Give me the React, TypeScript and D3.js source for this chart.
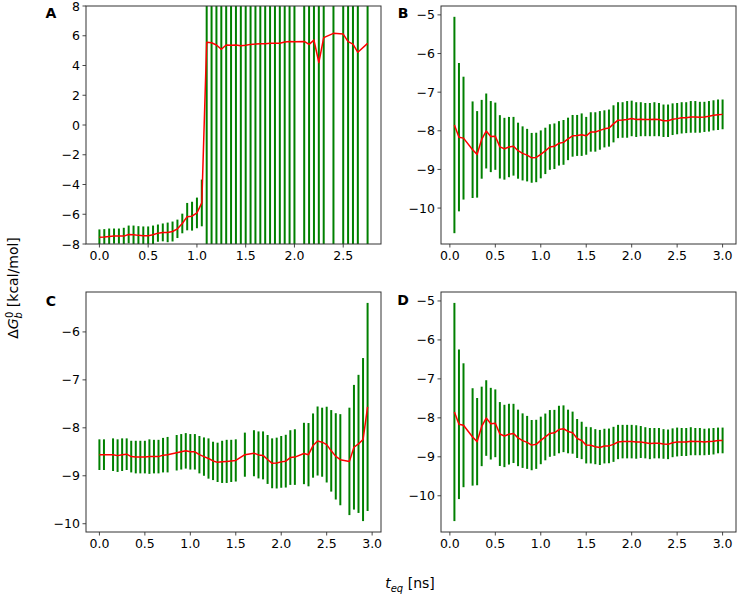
import React from "react";
import * as d3 from "d3";

// ---------- Panel A ----------
const xA = [
  0.0, 0.05, 0.1, 0.15, 0.2, 0.25, 0.3, 0.35, 0.4, 0.45, 0.5, 0.55, 0.6, 0.65, 0.7, 0.75, 0.8, 0.85, 0.9, 0.95, 1.0, 1.05,
  1.1, 1.15, 1.2, 1.25, 1.3, 1.35, 1.4, 1.45, 1.5, 1.55, 1.6, 1.65, 1.7, 1.75, 1.8, 1.85, 1.9, 1.95, 2.0,
  2.1, 2.15, 2.2, 2.25, 2.3, 2.4, 2.5, 2.55, 2.6, 2.65, 2.75,
];
const meanA = [
  -7.55, -7.53, -7.49, -7.47, -7.47, -7.47, -7.36, -7.38, -7.42, -7.44, -7.44, -7.38, -7.27, -7.22, -7.22, -7.16, -6.98, -6.62, -6.16, -6.13, -5.91, -5.24,
  5.56, 5.53, 5.38, 5.09, 5.38, 5.36, 5.38, 5.33, 5.36, 5.42, 5.44, 5.47, 5.47, 5.49, 5.49, 5.49, 5.58, 5.62, 5.6,
  5.62, 5.42, 5.71, 4.2, 5.87, 6.16, 6.11, 5.6, 5.44, 4.89, 5.49,
];
const errA = [
  0.53, 0.53, 0.53, 0.51, 0.51, 0.56, 0.6, 0.62, 0.62, 0.62, 0.62, 0.62, 0.58, 0.6, 0.66, 0.67, 0.62, 0.66, 0.92, 0.97, 1.03, 1.57,
  16, 16, 16, 16, 16, 16, 16, 16, 16, 16, 16, 16, 16, 16, 16, 16, 16, 16, 16,
  16, 16, 16, 16, 16, 16, 16, 16, 16, 16, 16,
];

// ---------- Panel B ----------
const xB = [
  0.05, 0.1, 0.15, 0.25, 0.3, 0.35, 0.4, 0.45, 0.5, 0.55,
  0.6, 0.65, 0.7, 0.75, 0.8, 0.85, 0.9, 0.95, 1.0, 1.05,
  1.1, 1.15, 1.2, 1.25, 1.3, 1.35, 1.4, 1.45, 1.5, 1.55,
  1.6, 1.65, 1.7, 1.75, 1.8, 1.85, 1.9, 1.95, 2.0, 2.05,
  2.1, 2.15, 2.2, 2.25, 2.3, 2.35, 2.4, 2.45, 2.5, 2.55,
  2.6, 2.65, 2.7, 2.75, 2.8, 2.85, 2.9, 2.95, 3.0,
];
const meanB = [
  -7.85, -8.165, -8.19, -8.49, -8.61, -8.22, -8.005, -8.15, -8.14, -8.415,
  -8.465, -8.42, -8.4, -8.515, -8.585, -8.63, -8.7, -8.69, -8.61, -8.52,
  -8.42, -8.4, -8.325, -8.3, -8.21, -8.13, -8.12, -8.1, -8.13, -8.03,
  -8.03, -7.99, -7.95, -7.93, -7.82, -7.725, -7.72, -7.705, -7.68, -7.71,
  -7.7, -7.71, -7.71, -7.7, -7.71, -7.74, -7.74, -7.7, -7.685, -7.665,
  -7.66, -7.64, -7.64, -7.65, -7.64, -7.625, -7.6, -7.585, -7.575,
];
const errB = [
  2.8, 1.92, 1.59, 1.25, 1.12, 1.02, 0.97, 0.92, 0.87, 0.82,
  0.8, 0.78, 0.76, 0.725, 0.7, 0.68, 0.645, 0.64, 0.62, 0.6,
  0.59, 0.59, 0.575, 0.58, 0.55, 0.54, 0.53, 0.55, 0.49, 0.51,
  0.51, 0.5, 0.48, 0.48, 0.48, 0.465, 0.46, 0.475, 0.46, 0.45,
  0.44, 0.43, 0.43, 0.44, 0.43, 0.42, 0.42, 0.41, 0.405, 0.405,
  0.4, 0.41, 0.41, 0.4, 0.39, 0.395, 0.39, 0.395, 0.385,
];

// ---------- Panel C ----------
const xC = [
  0.0, 0.05, 0.15, 0.2, 0.25, 0.3, 0.35, 0.4, 0.45, 0.5,
  0.55, 0.6, 0.65, 0.7, 0.75, 0.85, 0.9, 0.95, 1.0, 1.05,
  1.1, 1.15, 1.2, 1.25, 1.3, 1.35, 1.4, 1.45, 1.5, 1.6,
  1.7, 1.75, 1.8, 1.85, 1.9, 1.95, 2.0, 2.05, 2.1, 2.15,
  2.25, 2.3, 2.35, 2.4, 2.45, 2.5, 2.55, 2.6, 2.65,
  2.75, 2.8, 2.85, 2.9, 2.95,
];
const meanC = [
  -8.56, -8.56, -8.56, -8.58, -8.56, -8.55, -8.6, -8.61, -8.61, -8.61,
  -8.6, -8.6, -8.6, -8.57, -8.56, -8.52, -8.5, -8.48, -8.5, -8.5,
  -8.56, -8.6, -8.64, -8.69, -8.72, -8.71, -8.7, -8.69, -8.68, -8.56,
  -8.53, -8.565, -8.575, -8.66, -8.74, -8.735, -8.71, -8.695, -8.62, -8.61,
  -8.535, -8.56, -8.37, -8.275, -8.3, -8.35, -8.48, -8.595, -8.665,
  -8.7, -8.405, -8.335, -8.245, -7.565,
];
const errC = [
  0.32, 0.32, 0.34, 0.34, 0.34, 0.33, 0.33, 0.34, 0.34, 0.34,
  0.36, 0.35, 0.35, 0.36, 0.37, 0.37, 0.37, 0.37, 0.37, 0.37,
  0.39, 0.4, 0.42, 0.4, 0.41, 0.44, 0.45, 0.44, 0.44, 0.46,
  0.48, 0.49, 0.5, 0.51, 0.52, 0.53, 0.54, 0.55, 0.57, 0.58,
  0.64, 0.66, 0.67, 0.72, 0.72, 0.79, 0.85, 0.9, 0.95,
  1.12, 1.3, 1.44, 1.7, 2.17,
];

// ---------- Panel D ----------
const xD = xB;
const meanD = [
  -7.85, -8.165, -8.19, -8.49, -8.61, -8.22, -8.005, -8.15, -8.14, -8.415,
  -8.465, -8.42, -8.4, -8.515, -8.585, -8.63, -8.7, -8.68, -8.58, -8.49,
  -8.4, -8.385, -8.3, -8.28, -8.35, -8.38, -8.53, -8.58, -8.7, -8.705,
  -8.74, -8.76, -8.725, -8.72, -8.68, -8.62, -8.61, -8.61, -8.61, -8.62,
  -8.62, -8.64, -8.66, -8.65, -8.65, -8.67, -8.68, -8.64, -8.62, -8.62,
  -8.62, -8.6, -8.61, -8.61, -8.62, -8.61, -8.6, -8.58, -8.58,
];
const errD = [
  2.8, 1.92, 1.59, 1.25, 1.12, 1.02, 0.97, 0.92, 0.87, 0.82,
  0.8, 0.78, 0.76, 0.725, 0.7, 0.68, 0.645, 0.63, 0.61, 0.6,
  0.6, 0.59, 0.61, 0.6, 0.56, 0.54, 0.5, 0.48, 0.47, 0.465,
  0.45, 0.45, 0.445, 0.445, 0.45, 0.44, 0.43, 0.43, 0.43, 0.43,
  0.41, 0.4, 0.4, 0.39, 0.39, 0.38, 0.38, 0.37, 0.37, 0.36,
  0.36, 0.36, 0.35, 0.35, 0.34, 0.34, 0.34, 0.33, 0.33,
];

const xTickValues = [0, 0.5, 1.0, 1.5, 2.0, 2.5, 3.0];
const yTicksA = [-8, -6, -4, -2, 0, 2, 4, 6, 8];
const yTicksBD = [-10, -9, -8, -7, -6, -5];
const yTicksC = [-10, -9, -8, -7, -6];

const FONT = "DejaVu Sans, Liberation Sans, sans-serif";

type PanelProps = {
  id: string;
  label: string;
  xs: number[];
  means: number[];
  errs: number[];
  yFixed?: [number, number];
  yTicks: number[];
  left: number;
  top: number;
  width: number;
  height: number;
  labelX: number;
  labelY: number;
};

function padDomain(lo: number, hi: number): [number, number] {
  const m = (hi - lo) * 0.05;
  return [lo - m, hi + m];
}

const fmtMinus = (s: string) => s.replace("-", "\u2212");

function Panel(p: PanelProps) {
  const [x0, x1] = d3.extent(p.xs) as [number, number];
  const xDom = padDomain(x0, x1);
  let yDom: [number, number];
  if (p.yFixed) yDom = p.yFixed;
  else {
    const lo = d3.min(p.means.map((m, i) => m - p.errs[i])) as number;
    const hi = d3.max(p.means.map((m, i) => m + p.errs[i])) as number;
    yDom = padDomain(lo, hi);
  }
  const x = d3.scaleLinear().domain(xDom).range([p.left, p.left + p.width]);
  const y = d3.scaleLinear().domain(yDom).range([p.top + p.height, p.top]);
  const pts = p.xs.map((xv, i) => [xv, p.means[i]] as [number, number]);
  const line = d3
    .line<[number, number]>()
    .x((d) => x(d[0]))
    .y((d) => y(d[1]));
  const xt = xTickValues.filter((t) => t >= xDom[0] && t <= xDom[1]);
  const yt = p.yTicks.filter((t) => t >= yDom[0] - 1e-9 && t <= yDom[1] + 1e-9);
  const bottom = p.top + p.height;
  return (
    <g>
      <defs>
        <clipPath id={`clip-${p.id}`}>
          <rect x={p.left} y={p.top} width={p.width} height={p.height} />
        </clipPath>
      </defs>
      <g clipPath={`url(#clip-${p.id})`}>
        {p.xs.map((xv, i) => (
          <line
            key={i}
            x1={x(xv)}
            x2={x(xv)}
            y1={y(p.means[i] - p.errs[i])}
            y2={y(p.means[i] + p.errs[i])}
            stroke="#008000"
            strokeWidth={2}
          />
        ))}
        <path d={line(pts) || ""} fill="none" stroke="#ff0000" strokeWidth={1.5} strokeLinejoin="round" />
      </g>
      <rect x={p.left} y={p.top} width={p.width} height={p.height} fill="none" stroke="#333" strokeWidth={1} />
      {xt.map((t) => (
        <g key={`x${t}`}>
          <line x1={x(t)} x2={x(t)} y1={bottom} y2={bottom + 3.5} stroke="#333" strokeWidth={0.9} />
          <text x={x(t)} y={bottom + 16} textAnchor="middle" fontSize={12.5} fontFamily={FONT} fill="#000">
            {t.toFixed(1)}
          </text>
        </g>
      ))}
      {yt.map((t) => (
        <g key={`y${t}`}>
          <line x1={p.left - 3.5} x2={p.left} y1={y(t)} y2={y(t)} stroke="#333" strokeWidth={0.9} />
          <text x={p.left - 6} y={y(t) + 4.5} textAnchor="end" fontSize={12.5} fontFamily={FONT} fill="#000">
            {fmtMinus(String(t))}
          </text>
        </g>
      ))}
      <text x={p.labelX} y={p.labelY} textAnchor="middle" fontSize={14} fontWeight="bold" fontFamily={FONT} fill="#000">
        {p.label}
      </text>
    </g>
  );
}

export default function App() {
  const W = 737;
  const H = 595;
  return (
    <svg
      width={W}
      height={H}
      viewBox={`0 0 ${W} ${H}`}
      style={{ position: "absolute", left: 0, top: 0, background: "#fff" }}
    >
      <rect x={0} y={0} width={W} height={H} fill="#fff" />
      <Panel id="A" label="A" xs={xA} means={meanA} errs={errA} yFixed={[-8, 8]} yTicks={yTicksA} left={86} top={6} width={295} height={238} labelX={51} labelY={18} />
      <Panel id="B" label="B" xs={xB} means={meanB} errs={errB} yTicks={yTicksBD} left={441} top={6} width={295} height={238} labelX={403} labelY={18} />
      <Panel id="C" label="C" xs={xC} means={meanC} errs={errC} yTicks={yTicksC} left={86} top={292} width={295} height={240} labelX={51} labelY={306} />
      <Panel id="D" label="D" xs={xD} means={meanD} errs={errD} yTicks={yTicksBD} left={441} top={292} width={295} height={240} labelX={403} labelY={305} />
      {/* y label */}
      <text transform="translate(18,288) rotate(-90)" textAnchor="middle" fontSize={14} fontFamily={FONT} fill="#000">
        <tspan>Δ</tspan>
        <tspan fontStyle="italic">G</tspan>
        <tspan fontStyle="italic" fontSize={10} dy={3.5}>b</tspan>
        <tspan fontSize={10} dx={-6} dy={-9}>0</tspan>
        <tspan dy={5.5}> [kcal/mol]</tspan>
      </text>
      {/* x label */}
      <text x={410} y={588} textAnchor="middle" fontSize={14} fontFamily={FONT} fill="#000">
        <tspan fontStyle="italic">t</tspan>
        <tspan fontStyle="italic" fontSize={10} dy={3.5}>eq</tspan>
        <tspan dy={-3.5}> [ns]</tspan>
      </text>
    </svg>
  );
}
